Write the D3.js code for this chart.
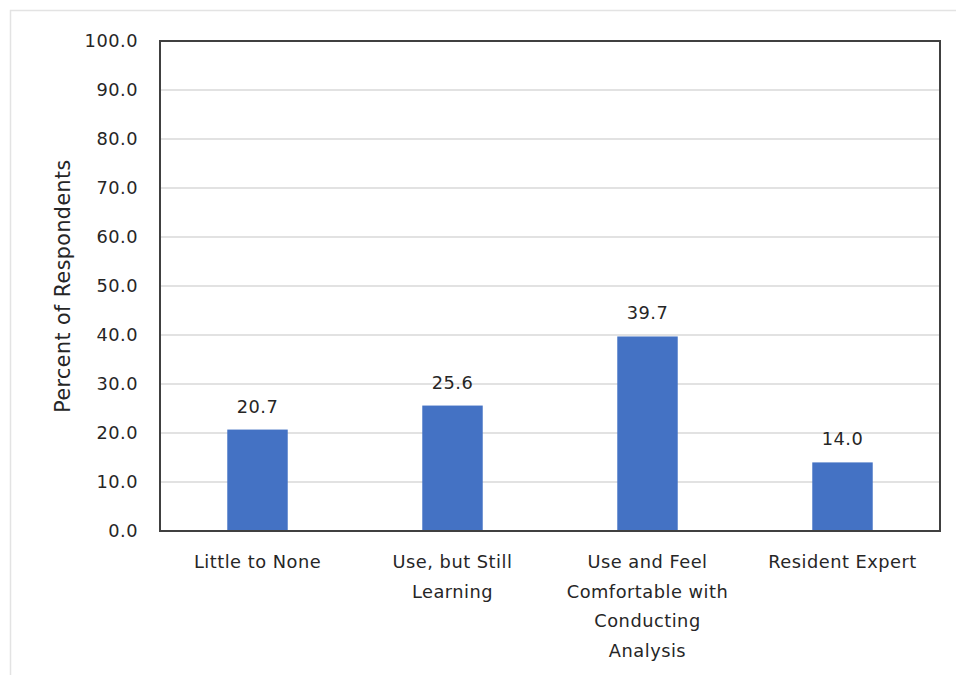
<!DOCTYPE html>
<html>
<head>
<meta charset="utf-8">
<script src="https://cdn.jsdelivr.net/npm/d3@7"></script>
<style>
  html, body { margin: 0; padding: 0; background: #fff; }
  svg { display: block; }
  text { font-family: "DejaVu Sans", "Open Sans", sans-serif; fill: #262626; letter-spacing: 0.5px; }
</style>
</head>
<body>
<svg id="chart" width="956" height="675"></svg>
<script>
// Self-rated skill level with data analysis
const categories = [
  "Little to None",
  "Use, but Still Learning",
  "Use and Feel Comfortable with Conducting Analysis",
  "Resident Expert"
];
const tickLines = [
  ["Little to None"],
  ["Use, but Still", "Learning"],
  ["Use and Feel", "Comfortable with", "Conducting", "Analysis"],
  ["Resident Expert"]
];
const percents = [20.7, 25.6, 39.7, 14.0];
const yTicks = [0, 10, 20, 30, 40, 50, 60, 70, 80, 90, 100];
const yTitle = "Percent of Respondents";

const svg = d3.select("#chart");
const margin = { left: 160, top: 41, right: 16, bottom: 144 };
const W = 956, H = 675;
const x0 = margin.left, x1 = W - margin.right;
const y0 = H - margin.bottom, y1 = margin.top;
const fontPx = "17.8px";

// outer chart-area border (only top/left fall inside the view)
svg.append("rect")
  .attr("x", 10.5).attr("y", 10.5)
  .attr("width", 960).attr("height", 700)
  .attr("fill", "none").attr("stroke", "#e3e3e3").attr("stroke-width", 1.5);

const x = d3.scaleBand().domain(categories).range([x0, x1]).padding(0);
const y = d3.scaleLinear().domain([0, 100]).range([y0, y1]);
const barW = x.bandwidth() * 0.31;

// gridlines
svg.append("g")
  .selectAll("line")
  .data(yTicks.filter(t => t > 0 && t < 100))
  .join("line")
  .attr("x1", x0).attr("x2", x1)
  .attr("y1", d => y(d)).attr("y2", d => y(d))
  .attr("stroke", "#d9d9d9").attr("stroke-width", 1.5);

// y axis labels
const yAxis = d3.axisLeft(y).tickValues(yTicks).tickFormat(d3.format(".1f")).tickSize(0).tickPadding(22);
const gy = svg.append("g").attr("transform", `translate(${x0},0)`).call(yAxis);
gy.select(".domain").remove();
gy.selectAll("text")
  .style("font-size", fontPx)
  .style("font-family", "'DejaVu Sans', sans-serif")
  .attr("fill", "#262626");

// bars
svg.append("g")
  .selectAll("rect")
  .data(percents)
  .join("rect")
  .attr("x", (d, i) => x(categories[i]) + x.bandwidth() / 2 - barW / 2)
  .attr("width", barW)
  .attr("y", d => y(d))
  .attr("height", d => y(0) - y(d))
  .attr("fill", "#4472c4");

// value labels
svg.append("g")
  .selectAll("text")
  .data(percents)
  .join("text")
  .attr("x", (d, i) => x(categories[i]) + x.bandwidth() / 2)
  .attr("y", d => y(d) - 17)
  .attr("text-anchor", "middle")
  .style("font-size", fontPx)
  .text(d => d.toFixed(1));

// plot frame
svg.append("rect")
  .attr("x", x0).attr("y", y1)
  .attr("width", x1 - x0).attr("height", y0 - y1)
  .attr("fill", "none").attr("stroke", "#404040").attr("stroke-width", 2);

// category labels
const cat = svg.append("g");
categories.forEach((c, i) => {
  const t = cat.append("text")
    .attr("x", x(c) + x.bandwidth() / 2)
    .attr("y", y0 + 37)
    .attr("text-anchor", "middle")
    .style("font-size", fontPx);
  tickLines[i].forEach((ln, j) => {
    t.append("tspan")
      .attr("x", x(c) + x.bandwidth() / 2)
      .attr("dy", j === 0 ? 0 : 29.5)
      .text(ln);
  });
});

// y axis title
svg.append("text")
  .attr("transform", `translate(70,${(y0 + y1) / 2}) rotate(-90)`)
  .attr("text-anchor", "middle")
  .style("font-size", "20.5px")
  .text(yTitle);
</script>
</body>
</html>
